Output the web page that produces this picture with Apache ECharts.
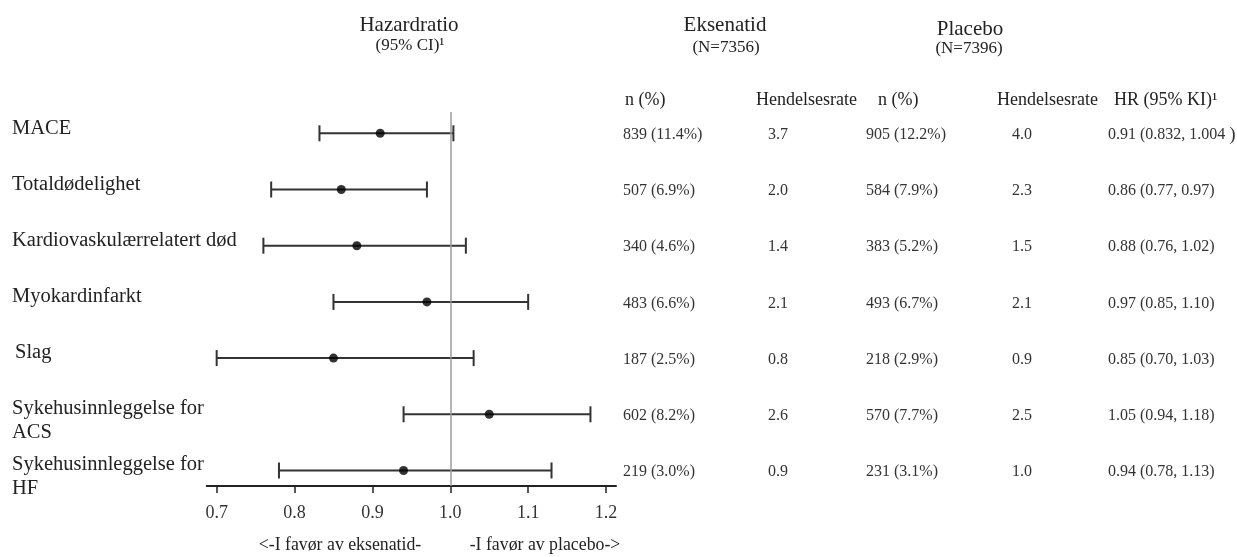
<!DOCTYPE html>
<html>
<head>
<meta charset="utf-8">
<script src="https://cdn.jsdelivr.net/npm/echarts@6/dist/echarts.min.js"></script>
<style>html,body{margin:0;padding:0;background:#fff}#c{width:1237px;height:557px}</style>
</head>
<body>
<div id="c"></div>
<script>
// ---- data ----
const categories = ['MACE', 'Totaldødelighet', 'Kardiovaskulærrelatert død', 'Myokardinfarkt', 'Slag', 'Sykehusinnleggelse for\nACS', 'Sykehusinnleggelse for\nHF'];
const hr = [0.91, 0.86, 0.88, 0.97, 0.85, 1.05, 0.94];
const ciLow = [0.832, 0.77, 0.76, 0.85, 0.70, 0.94, 0.78];
const ciHigh = [1.004, 0.97, 1.02, 1.10, 1.03, 1.18, 1.13];
const exeN = ['839 (11.4%)', '507 (6.9%)', '340 (4.6%)', '483 (6.6%)', '187 (2.5%)', '602 (8.2%)', '219 (3.0%)'];
const exeRate = ['3.7', '2.0', '1.4', '2.1', '0.8', '2.6', '0.9'];
const plaN = ['905 (12.2%)', '584 (7.9%)', '383 (5.2%)', '493 (6.7%)', '218 (2.9%)', '570 (7.7%)', '231 (3.1%)'];
const plaRate = ['4.0', '2.3', '1.5', '2.1', '0.9', '2.5', '1.0'];
const hrText = ['0.91 (0.832, 1.004 )', '0.86 (0.77, 0.97)', '0.88 (0.76, 1.02)', '0.97 (0.85, 1.10)', '0.85 (0.70, 1.03)', '1.05 (0.94, 1.18)', '0.94 (0.78, 1.13)'];
const xTicks = [0.7, 0.8, 0.9, 1.0, 1.1, 1.2];

// ---- layout / style ----
const FONT = '"Liberation Serif", "Times New Roman", serif';
const TXT = '#222';
const rowIdx = categories.map((_, i) => i);
const yRange = { min: -0.379, max: 6.276 };

function textColumn(x, align, texts, fontSize, dyFn, color, dxFn) {
  return {
    type: 'custom',
    xAxisIndex: 1, yAxisIndex: 1,
    silent: true,
    clip: false,
    data: texts.map((t, i) => [x, i]),
    renderItem: function (params, api) {
      const p = api.coord([api.value(0), api.value(1)]);
      let t = texts[params.dataIndex];
      const style = {
        text: t, align: align, verticalAlign: 'middle',
        fontSize: fontSize, fontFamily: FONT, fill: color || TXT,
        lineHeight: 24
      };
      if (/ \)$/.test(t)) {
        style.text = '{a|' + t.slice(0, -1) + '}{b|)}';
        style.rich = {
          a: { fontSize: fontSize, fontFamily: FONT, fill: color || TXT },
          b: { fontSize: fontSize + 3, fontFamily: FONT, fill: color || TXT }
        };
      }
      return { type: 'text', x: p[0] + (dxFn ? dxFn(t) : 0), y: p[1] + dyFn(t), style: style };
    }
  };
}

function headerText(text, x, y, size, align) {
  return {
    type: 'text', x: x, y: y, silent: true,
    style: { text: text, align: align || 'center', verticalAlign: 'middle', fontSize: size, fontFamily: FONT, fill: TXT }
  };
}

const chart = echarts.init(document.getElementById('c'));
const option = {
  backgroundColor: '#fff',
  animation: false,
  grid: [
    { left: 206.7, right: 621, top: 112, bottom: 71 },
    { left: 0, right: 0, top: 112, bottom: 71 }
  ],
  xAxis: [
    {
      type: 'value', gridIndex: 0, min: 0.6872, max: 1.2128,
      splitLine: { show: false },
      axisLine: { show: true, onZero: false, lineStyle: { color: '#222', width: 2 } },
      axisTick: { show: true, length: 7, customValues: xTicks, lineStyle: { color: '#222', width: 1.5 } },
      axisLabel: {
        show: true, customValues: xTicks, margin: 18,
        fontSize: 18, fontFamily: FONT, color: '#333',
        formatter: v => Number(v).toFixed(1)
      }
    },
    { type: 'value', gridIndex: 1, min: 0, max: 1237, show: false }
  ],
  yAxis: [
    { type: 'value', gridIndex: 0, inverse: true, min: yRange.min, max: yRange.max, show: false },
    { type: 'value', gridIndex: 1, inverse: true, min: yRange.min, max: yRange.max, show: false }
  ],
  graphic: [
    headerText('Hazardratio', 409, 25, 21),
    headerText('(95% CI)¹', 410, 46, 17),
    headerText('Eksenatid', 725, 25, 21),
    headerText('(N=7356)', 726, 47.5, 17),
    headerText('Placebo', 970, 29, 21),
    headerText('(N=7396)', 969, 49, 17),
    headerText('n (%)', 625, 100, 18, 'left'),
    headerText('Hendelsesrate', 756, 100, 18, 'left'),
    headerText('n (%)', 878, 100, 18, 'left'),
    headerText('Hendelsesrate', 997, 100, 18, 'left'),
    headerText('HR (95% KI)¹', 1114, 100, 18, 'left'),
    headerText('<-I favør av eksenatid-', 340, 545, 17.8),
    headerText('-I favør av placebo->', 545, 545, 17.8)
  ],
  series: [
    {
      type: 'custom',
      xAxisIndex: 0, yAxisIndex: 0,
      silent: true,
      data: rowIdx.map(i => [ciLow[i], ciHigh[i], i]),
      renderItem: function (params, api) {
        const a = api.coord([api.value(0), api.value(2)]);
        const b = api.coord([api.value(1), api.value(2)]);
        const s = { stroke: '#333', lineWidth: 2 };
        const cap = 8;
        return {
          type: 'group',
          children: [
            { type: 'line', shape: { x1: a[0], y1: a[1], x2: b[0], y2: b[1] }, style: s },
            { type: 'line', shape: { x1: a[0], y1: a[1] - cap, x2: a[0], y2: a[1] + cap }, style: s },
            { type: 'line', shape: { x1: b[0], y1: b[1] - cap, x2: b[0], y2: b[1] + cap }, style: s }
          ]
        };
      }
    },
    {
      type: 'scatter',
      xAxisIndex: 0, yAxisIndex: 0,
      silent: true,
      symbol: 'circle', symbolSize: 9,
      itemStyle: { color: '#000' },
      z: 5,
      data: rowIdx.map(i => [hr[i], i]),
      markLine: {
        silent: true, symbol: 'none', label: { show: false },
        lineStyle: { color: '#9a9a9a', width: 1.5, type: 'solid' },
        data: [{ xAxis: 1.0 }]
      }
    },
    textColumn(12, 'left', categories, 20.5, t => (t.indexOf('\n') >= 0 ? 6 : -5), TXT, t => (t === 'Slag' ? 3 : 0)),
    textColumn(623, 'left', exeN, 16, () => 1.5, '#333'),
    textColumn(778, 'center', exeRate, 16, () => 1.5, '#333'),
    textColumn(866, 'left', plaN, 16, () => 1.5, '#333'),
    textColumn(1022, 'center', plaRate, 16, () => 1.5, '#333'),
    textColumn(1108, 'left', hrText, 16, () => 1.5, '#333')
  ]
};
chart.setOption(option);
</script>
</body>
</html>
